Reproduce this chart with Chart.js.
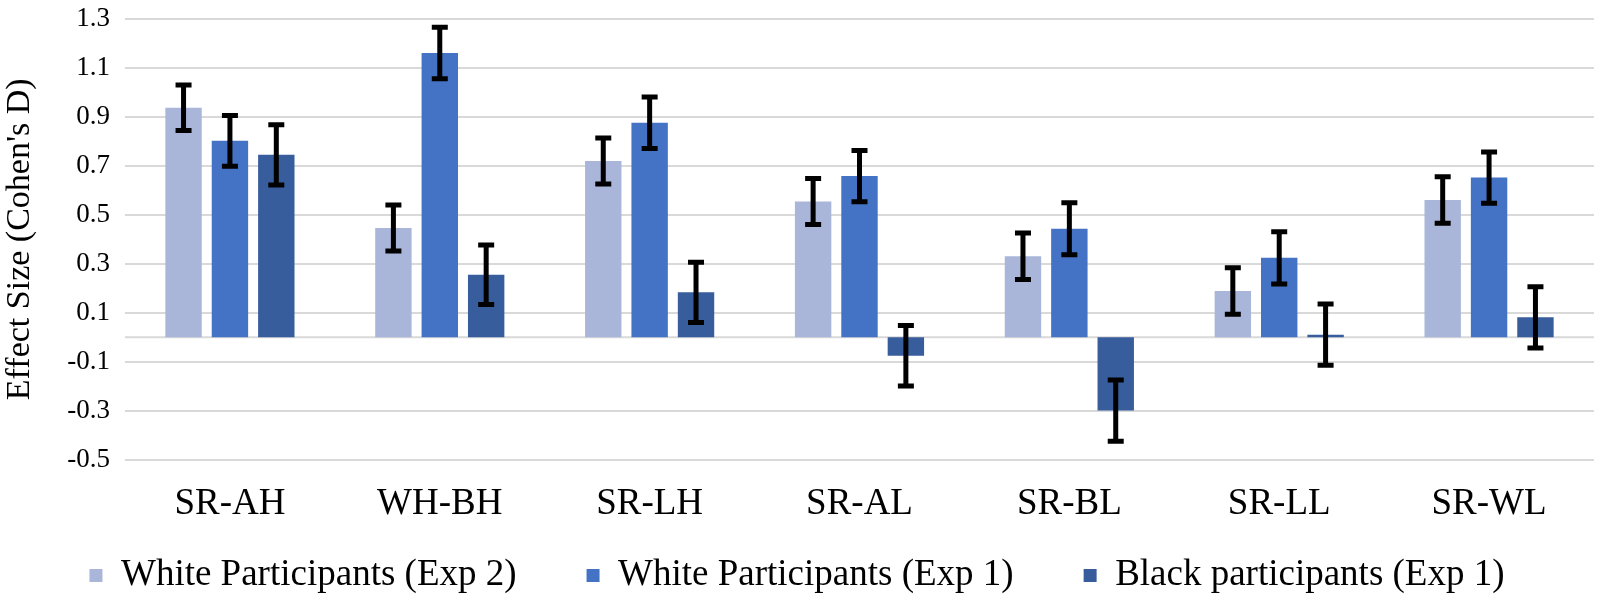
<!DOCTYPE html>
<html>
<head>
<meta charset="utf-8">
<script src="https://cdn.jsdelivr.net/npm/chart.js@4.4.0/dist/chart.umd.min.js"></script>
<style>
  body { margin: 0; background: #fff; }
  #wrap { width: 1600px; height: 604px; }
</style>
</head>
<body>
<div id="wrap"><canvas id="chart-area" width="1600" height="604"></canvas></div>
<script>
// categories and series
var categories = ['SR-AH', 'WH-BH', 'SR-LH', 'SR-AL', 'SR-BL', 'SR-LL', 'SR-WL'];
var seriesNames = ['White Participants (Exp 2)', 'White Participants (Exp 1)', 'Black participants (Exp 1)'];
var whiteExp2 = [0.937, 0.446, 0.720, 0.554, 0.331, 0.189, 0.560];
var whiteExp1 = [0.802, 1.161, 0.876, 0.658, 0.443, 0.324, 0.652];
var blackExp1 = [0.745, 0.255, 0.183, -0.076, -0.300, 0.010, 0.081];
// error bar half-lengths
var errWhiteExp2 = [0.093, 0.094, 0.094, 0.094, 0.095, 0.095, 0.095];
var errWhiteExp1 = [0.104, 0.105, 0.105, 0.105, 0.106, 0.107, 0.105];
var errBlackExp1 = [0.123, 0.122, 0.123, 0.124, 0.125, 0.125, 0.125];
var errorSets = [errWhiteExp2, errWhiteExp1, errBlackExp1];
// y axis
var yMin = -0.5, yMax = 1.3, yStep = 0.2;

var colors = ['#A9B6D9', '#4472C4', '#385D9D'];
var serif = 'Liberation Serif, Times New Roman, serif';
var legendPad = 70;     // space between legend items
var legendHeight = 88.5; // room the legend gets under the axis labels

Chart.defaults.color = '#000';

// horizontal line at zero (Excel puts the category axis there)
var zeroLine = {
  id: 'zeroLine',
  beforeDatasetsDraw: function(chart) {
    var c = chart.ctx, a = chart.chartArea;
    var y0 = chart.scales.y.getPixelForValue(0);
    c.save();
    c.strokeStyle = '#D9D9D9';
    c.lineWidth = 2;
    c.beginPath();
    c.moveTo(a.left, y0);
    c.lineTo(a.right, y0);
    c.stroke();
    c.restore();
  }
};

// error bars, placed with the y scale
var errorBars = {
  id: 'errorBars',
  afterDatasetsDraw: function(chart) {
    var c = chart.ctx, ys = chart.scales.y;
    c.save();
    c.strokeStyle = '#000';
    c.lineWidth = 5;
    chart.data.datasets.forEach(function(ds, i) {
      var meta = chart.getDatasetMeta(i);
      meta.data.forEach(function(bar, j) {
        var v = ds.data[j], e = errorSets[i][j];
        var top = ys.getPixelForValue(v + e);
        var bot = ys.getPixelForValue(v - e);
        c.beginPath();
        c.moveTo(bar.x, top); c.lineTo(bar.x, bot);
        c.moveTo(bar.x - 8, top); c.lineTo(bar.x + 8, top);
        c.moveTo(bar.x - 8, bot); c.lineTo(bar.x + 8, bot);
        c.stroke();
      });
    });
    c.restore();
  }
};

// the legend padding also pushes the items down, so pull the legend box back up
var legendShift = {
  id: 'legendShift',
  afterLayout: function(chart) {
    var lg = chart.legend;
    var itemsTop = lg.bottom - legendHeight + 41.5;
    lg.top = itemsTop - legendPad;
  }
};

var allSeries = [whiteExp2, whiteExp1, blackExp1];
var chartArr = [];
for (var i = 0; i < allSeries.length; i++) {
  chartArr.push({
    label: seriesNames[i],
    data: allSeries[i],
    backgroundColor: colors[i],
    borderColor: colors[i],
    borderWidth: 0,
    categoryPercentage: 0.663,
    barPercentage: 0.785
  });
}

var ctx = document.getElementById('chart-area');
var myChart = new Chart(ctx, {
  type: 'bar',
  data: { labels: categories, datasets: chartArr },
  plugins: [zeroLine, errorBars, legendShift],
  options: {
    responsive: false,
    animation: false,
    devicePixelRatio: 1,
    layout: { padding: { top: 19, right: 6, left: 0, bottom: 0 } },
    plugins: {
      tooltip: { enabled: false },
      legend: {
        position: 'bottom',
        maxHeight: legendHeight,
        labels: {
          font: { family: serif, size: 37 },
          boxWidth: 13,
          boxHeight: 13,
          padding: legendPad,
          color: '#000'
        }
      }
    },
    scales: {
      x: {
        grid: { display: false },
        border: { display: false },
        ticks: { font: { family: serif, size: 37, lineHeight: 1 }, padding: 18.5, color: '#000' },
        afterFit: function(s) { s.height = 56; }
      },
      y: {
        min: yMin,
        max: yMax,
        grid: { color: '#D9D9D9', lineWidth: 2, drawTicks: false },
        border: { display: false },
        ticks: {
          stepSize: yStep,
          padding: 15,
          font: { family: serif, size: 27 },
          color: '#000',
          callback: function(v) { return Number(v).toFixed(1); }
        },
        title: {
          display: true,
          text: "Effect Size (Cohen's D)",
          font: { family: serif, size: 34 },
          padding: { top: 0, bottom: 0 },
          color: '#000'
        },
        afterFit: function(s) { s.width = 125; s.paddingTop = 0; }
      }
    }
  }
});
</script>
</body>
</html>
